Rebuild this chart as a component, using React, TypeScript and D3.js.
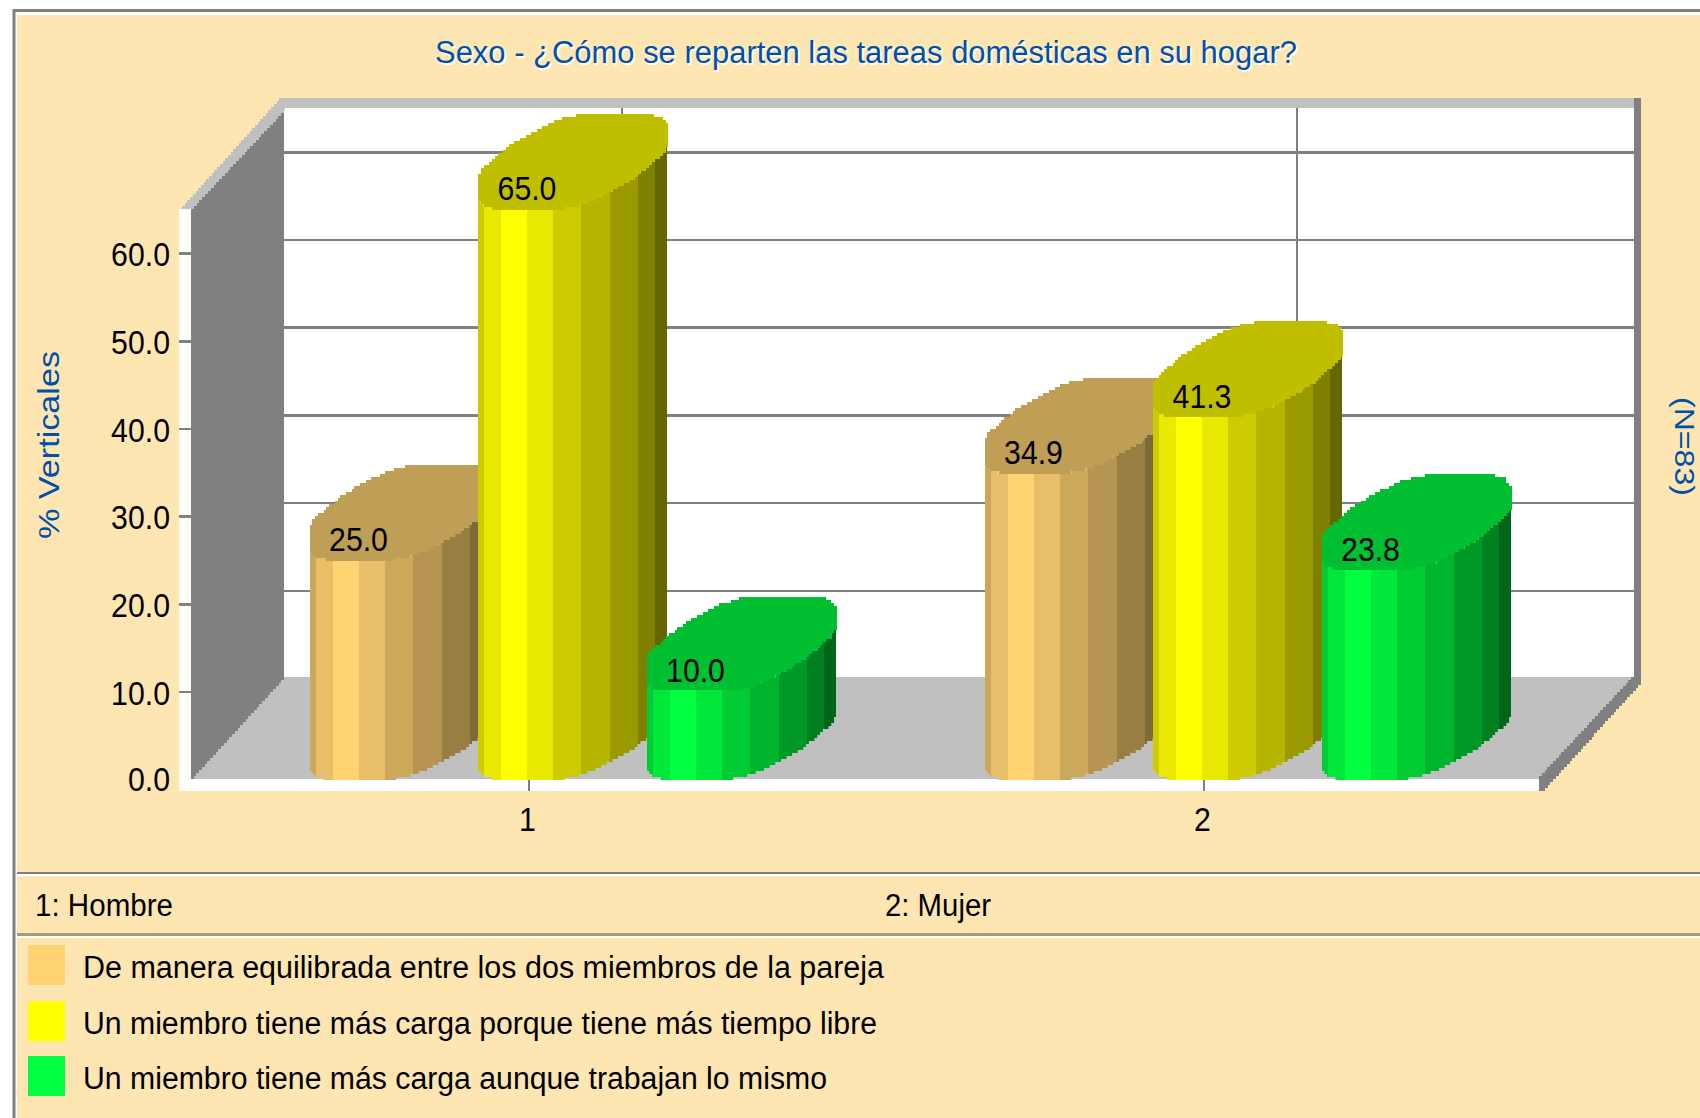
import React from "react";
import * as d3 from "d3";

const title = "Sexo - ¿Cómo se reparten las tareas domésticas en su hogar?";
const yAxisLabel = "% Verticales";
const sideLabel = "(N=83)";
const categories = ["1", "2"];
const categoryNames = ["1: Hombre", "2: Mujer"];
const seriesNames = [
  "De manera equilibrada entre los dos miembros de la pareja",
  "Un miembro tiene más carga porque tiene más tiempo libre",
  "Un miembro tiene más carga aunque trabajan lo mismo",
];
const seriesColors = ["#ffd272", "#ffff00", "#00ff40"];
const equilibrada = [25.0, 34.9];
const tiempoLibre = [65.0, 41.3];
const mismoTrabajo = [10.0, 23.8];
const seriesValues = [equilibrada, tiempoLibre, mismoTrabajo];
const yTicks = [0, 10, 20, 30, 40, 50, 60];
const gridTicks = [10, 20, 30, 40, 50, 60];

// layout
const BG = "#fee6b3";
const BLUE = "#0050a8";
const GRAY = "#808080";
const LIGHT = "#c0c0c0";
const FONT = "'Liberation Sans', Arial, sans-serif";
const y = d3.scaleLinear().domain([0, 65]).range([779, 209]);
const x = d3.scalePoint<string>().domain(categories).range([529, 1204]);
const DX = 93;
const DY = 102;
const BAR_STEP = 168.5;
const BAR_W = 189;
const BAR_H = 95;
const A = BAR_W / 2;
const stripeEdges = [0, 6, 23, 49, 75, 103, 132, 160, 177, 189];
const stripeShade = [0.8, 0.91, 1, 0.91, 0.8, 0.71, 0.6, 0.5, 0.4];
const TOP_SHADE = 0.75;
// outline of the lower edge of a cylinder's cap, relative to its centre
const capLower = d3
  .scaleLinear()
  .domain([-1, -0.94, -0.82, -0.12, 0.03, 0.2, 0.35, 0.5, 0.69, 0.82, 0.94, 1])
  .range([38, 44.5, 47.5, 47.5, 45, 40, 33, 25.5, 14.5, 3.5, -5.5, -13.5]);

const shade = (c: string, f: number) => {
  const r = d3.rgb(c);
  return d3.rgb(r.r * f, r.g * f, r.b * f).formatHex();
};

const COL = 2.8;
const ROW = 3;
const snap = (v: number) => Math.round(v / ROW) * ROW;

function columns(x0: number) {
  const xs: number[] = [];
  for (let v = x0; v < x0 + BAR_W - 0.01; v += COL) xs.push(v);
  return xs;
}
function curve(x0: number, cy: number, v: number, sign: number) {
  const u = Math.max(-1, Math.min(1, (v + COL / 2 - (x0 + A)) / A));
  return sign > 0 ? snap(cy + capLower(u)) : snap(cy - capLower(-u));
}
function capPath(x0: number, cy: number) {
  const xs = columns(x0);
  const up = xs.map((v) => [v, curve(x0, cy, v, -1)]);
  const down = xs.map((v) => [v, curve(x0, cy, v, 1)]);
  let d = `M${x0},${up[0][1]}`;
  up.forEach(([v, t]) => (d += `L${v},${t}L${v + COL},${t}`));
  for (let i = down.length - 1; i >= 0; i--) {
    const [v, t] = down[i];
    d += `L${v + COL},${t}L${v},${t}`;
  }
  return d + "Z";
}
function bodyPath(x0: number, topCy: number, botCy: number) {
  const xs = columns(x0);
  let d = `M${x0},${curve(x0, topCy, xs[0], 1)}`;
  xs.forEach((v) => {
    const t = curve(x0, topCy, v, 1);
    d += `L${v},${t}L${v + COL},${t}`;
  });
  for (let i = xs.length - 1; i >= 0; i--) {
    const b = curve(x0, botCy, xs[i], 1);
    d += `L${xs[i] + COL},${b}L${xs[i]},${b}`;
  }
  return d + "Z";
}
function stairs(x1: number, y1: number, x2: number, y2: number) {
  const n = Math.max(1, Math.round(Math.abs(y2 - y1) / ROW));
  let d = "";
  for (let i = 0; i < n; i++) {
    const xa = x1 + ((x2 - x1) * i) / n;
    const xb = x1 + ((x2 - x1) * (i + 1)) / n;
    const yb = y1 + ((y2 - y1) * (i + 1)) / n;
    d += `L${xa},${yb}L${xb},${yb}`;
  }
  return d;
}

function Num({ tx, ty, anchor, children }: any) {
  return (
    <text
      transform={`translate(${tx},${ty}) scale(0.89,1)`}
      textAnchor={anchor}
      fontFamily={FONT}
      fontSize={34}
      fill="#000"
    >
      {children}
    </text>
  );
}

function Cylinder({ s, c, value }: { s: number; c: number; value: number }) {
  const x0 = (x(categories[c]) as number) - 51 + (s - 1) * BAR_STEP;
  const base = seriesColors[s];
  const topY = y(value);
  const topCy = topY - BAR_H / 2;
  const botCy = y(0) - BAR_H / 2;
  const id = `clip-${s}-${c}`;
  return (
    <g shapeRendering="crispEdges">
      <clipPath id={id}>
        <path d={bodyPath(x0, topCy, botCy)} />
      </clipPath>
      <g clipPath={`url(#${id})`}>
        {stripeShade.map((f, i) => (
          <rect
            key={i}
            x={x0 + stripeEdges[i]}
            width={stripeEdges[i + 1] - stripeEdges[i]}
            y={topCy - BAR_H}
            height={botCy - topCy + BAR_H * 2}
            fill={shade(base, f)}
          />
        ))}
      </g>
      <path d={capPath(x0, topCy)} fill={shade(base, TOP_SHADE)} />
    </g>
  );
}

export default function App() {
  const y0 = y(0);
  const yTop = y(65);
  const backTop = yTop - DY;
  const backBottom = y0 - DY;
  const frontL = 191;
  const backL = frontL + DX;
  const backR = 1634;
  const frontR = backR - DX - 2;
  const bandTop = 98;
  return (
    <svg
      width={1700}
      height={1118}
      viewBox="0 0 1700 1118"
      style={{ position: "fixed", left: 0, top: 0, display: "block" }}
    >
      <rect width={1700} height={1118} fill="#fff" />
      <rect x={12.5} y={9} width={1688} height={1109} fill={GRAY} />
      <rect x={15.5} y={12} width={1685} height={1106} fill="#fff" />
      <rect x={17} y={15} width={1683} height={1103} fill={BG} />

      {/* title */}
      <text x={437} y={65} textLength={862} lengthAdjust="spacingAndGlyphs" fontFamily={FONT} fontSize={31} fill="#fff">
        {title}
      </text>
      <text x={435} y={63} textLength={862} lengthAdjust="spacingAndGlyphs" fontFamily={FONT} fontSize={31} fill={BLUE}>
        {title}
      </text>

      {/* walls and floor */}
      <g shapeRendering="crispEdges">
        <rect x={backL} y={backTop} width={backR - backL} height={backBottom - backTop} fill="#fff" />
        <rect x={179} y={yTop} width={12} height={y0 + 12 - yTop} fill="#fff" />
        <rect x={179} y={y0} width={frontR + 3 - 179} height={12} fill="#fff" />
        <path d={`M${frontL},${y0}${stairs(frontL, y0, backL, backBottom)}L${backR},${backBottom}${stairs(backR, backBottom, frontR, y0)}Z`} fill={LIGHT} />
        <path d={`M${frontL},${yTop}${stairs(frontL, yTop, backL, backTop + 2)}L${backL},${backBottom}${stairs(backL, backBottom, frontL, y0)}Z`} fill={GRAY} />
        <path d={`M182,${yTop}${stairs(182, yTop, backL - 2, bandTop)}L${backL + 1},${backTop}${stairs(backL, backTop + 3, frontL, yTop)}Z`} fill={LIGHT} />
        {gridTicks.map((t) => (
          <rect key={t} x={backL} y={y(t) - DY + 0.2} width={backR - backL} height={2.5} fill={GRAY} />
        ))}
        {categories.map((c) => (
          <rect key={c} x={(x(c) as number) + DX - 1.2} y={backTop} width={2.5} height={backBottom - backTop} fill={GRAY} />
        ))}
        <rect x={backL - 2} y={bandTop} width={backR + 7 - backL + 2} height={10} fill={LIGHT} />
        <rect x={backR} y={bandTop} width={7} height={backBottom + 5 - bandTop} fill={GRAY} />
        <path d={`M${backR},${backBottom}L${backR + 7},${backBottom + 5}${stairs(backR + 7, backBottom + 5, frontR + 3, y0 + 12)}L${frontR},${y0 + 12}L${frontR},${y0}${stairs(frontR, y0, backR, backBottom)}Z`} fill={GRAY} />
        {yTicks.slice(1).map((t) => (
          <rect key={t} x={179} y={y(t) - 0.5} width={12} height={2.5} fill={GRAY} />
        ))}
        {categories.map((c) => (
          <rect key={c} x={(x(c) as number) - 1.2} y={y0} width={2.5} height={12} fill={GRAY} />
        ))}
      </g>

      {/* bars */}
      {categories.map((_, c) =>
        seriesValues.map((vals, s) => <Cylinder key={`${s}-${c}`} s={s} c={c} value={vals[c]} />)
      )}
      {categories.map((cat, c) =>
        seriesValues.map((vals, s) => (
          <Num
            key={`${s}-${c}`}
            tx={(x(cat) as number) - 51 + (s - 1) * BAR_STEP + 49}
            ty={y(vals[c]) - 9}
            anchor="middle"
          >
            {vals[c].toFixed(1)}
          </Num>
        ))
      )}

      {/* axes text */}
      {yTicks.map((t) => (
        <Num key={t} tx={170} ty={y(t) + (t === 0 ? 12 : 13.5)} anchor="end">
          {t.toFixed(1)}
        </Num>
      ))}
      {categories.map((c) => (
        <Num key={c} tx={(x(c) as number) - 1.5} ty={831} anchor="middle">
          {c}
        </Num>
      ))}
      <text
        transform="translate(59,539) rotate(-90)"
        textLength={188}
        lengthAdjust="spacingAndGlyphs"
        fontFamily={FONT}
        fontSize={30}
        fill={BLUE}
      >
        {yAxisLabel}
      </text>
      <text
        transform="translate(1675,397) rotate(90)"
        textLength={99}
        lengthAdjust="spacingAndGlyphs"
        fontFamily={FONT}
        fontSize={27}
        fill={BLUE}
      >
        {sideLabel}
      </text>

      {/* legend */}
      <g shapeRendering="crispEdges">
        <rect x={17} y={871.5} width={1683} height={2.5} fill={GRAY} />
        <rect x={17} y={874} width={1683} height={2} fill="#fff" />
        <rect x={17} y={933} width={1683} height={3} fill="#a89c78" />
        <rect x={17} y={936} width={1683} height={2} fill="#fff" />
      </g>
      {categoryNames.map((n, i) => (
        <text
          key={n}
          x={[35, 885][i]}
          y={916}
          textLength={[138, 106][i]}
          lengthAdjust="spacingAndGlyphs"
          fontFamily={FONT}
          fontSize={31}
          fill="#000"
        >
          {n}
        </text>
      ))}
      {seriesNames.map((n, i) => (
        <g key={n}>
          <rect x={28} y={[945, 1001, 1056][i]} width={37} height={40} fill={seriesColors[i]} shapeRendering="crispEdges" />
          <text
            x={83}
            y={[978, 1034, 1089][i]}
            textLength={[801, 794, 744][i]}
            lengthAdjust="spacingAndGlyphs"
            fontFamily={FONT}
            fontSize={31}
            fill="#000"
          >
            {n}
          </text>
        </g>
      ))}
    </svg>
  );
}
